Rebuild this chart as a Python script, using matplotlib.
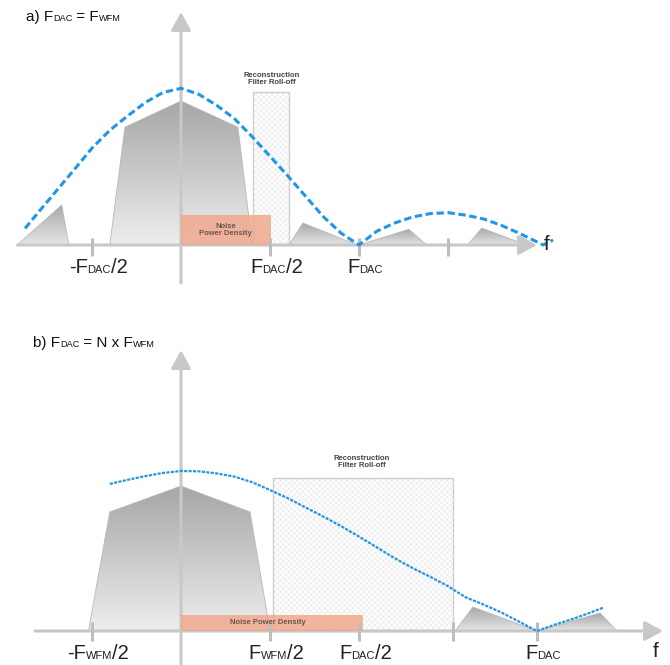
import numpy as np
import matplotlib
matplotlib.use("Agg")
import matplotlib.pyplot as plt
from matplotlib.patches import Polygon, Rectangle
from matplotlib.colors import LinearSegmentedColormap
from matplotlib.offsetbox import TextArea, HPacker, AnnotationBbox
from matplotlib import font_manager as fm

# ---------------- data (frequency in units of F_DAC, amplitude relative) -------------
# panel a) F_DAC = F_WFM
a_curve_f = [-0.876, -0.8, -0.7, -0.6, -0.5, -0.4, -0.3, -0.2, -0.1, 0.0,
             0.1, 0.2, 0.3, 0.4, 0.5, 0.6, 0.7, 0.8, 0.9, 1.0,
             1.1, 1.2, 1.3, 1.4, 1.5, 1.6, 1.7, 1.8, 1.9, 2.0, 2.035, 2.09]
a_curve_v = [0.106, 0.21, 0.345, 0.48, 0.617, 0.731, 0.822, 0.908, 0.972, 0.998,
             0.96, 0.89, 0.805, 0.69, 0.565, 0.44, 0.31, 0.18, 0.075, 0.0,
             0.088, 0.14, 0.178, 0.200, 0.206, 0.19, 0.166, 0.125, 0.075, 0.02, 0.0, 0.032]
a_main_f = [-0.40, -0.315, 0.0, 0.32, 0.40]
a_main_v = [0.0, 0.75, 0.917, 0.75, 0.0]
a_images_f = [[-0.92, -0.67, -0.63], [0.607, 0.685, 0.99], [1.0, 1.28, 1.38], [1.61, 1.69, 1.94]]
a_images_v = [[0.0, 0.255, 0.0], [0.0, 0.14, 0.0], [0.0, 0.10, 0.0], [0.0, 0.108, 0.0]]
a_noise = (0.0, 0.506, 0.19)           # f start, f end, height
a_filter = (0.404, 0.607, 0.975)
a_ticks = [-0.5, 0.5, 1.0, 1.5]
a_tick_labels = [("-F", "DAC", "/2"), ("F", "DAC", "/2"), ("F", "DAC", ""), None]

# panel b) F_DAC = N x F_WFM
b_curve_f = [-0.2, -0.15, -0.1, -0.05, 0.0, 0.05, 0.1, 0.15, 0.2, 0.25, 0.3, 0.35,
             0.4, 0.45, 0.5, 0.55, 0.6, 0.65, 0.7, 0.75, 0.8, 0.85, 0.9, 0.95,
             1.0, 1.05, 1.1, 1.15, 1.186]
b_curve_v = [0.919, 0.945, 0.968, 0.988, 1.0, 0.998, 0.985, 0.965, 0.93, 0.881, 0.83, 0.772,
             0.715, 0.655, 0.59, 0.523, 0.455, 0.394, 0.339, 0.28, 0.21, 0.165, 0.116, 0.058,
             0.0, 0.04, 0.075, 0.115, 0.146]
b_main_f = [-0.26, -0.2, 0.0, 0.194, 0.25]
b_main_v = [0.0, 0.744, 0.906, 0.744, 0.0]
b_images_f = [[0.77, 0.82, 1.0], [1.0, 1.177, 1.225]]
b_images_v = [[0.0, 0.15, 0.0], [0.0, 0.1125, 0.0]]
b_noise = (0.0, 0.511, 0.10)
b_filter = (0.258, 0.764, 0.956)
b_ticks = [-0.25, 0.25, 0.5, 0.764, 1.0]
b_tick_labels = [("-F", "WFM", "/2"), ("F", "WFM", "/2"), ("F", "DAC", "/2"), None, ("F", "DAC", "")]

# ---------------- style ----------------
names = {f.name for f in fm.fontManager.ttflist}
NARROW = 'Liberation Sans Narrow' if 'Liberation Sans Narrow' in names else 'Liberation Sans'
REG = 'Liberation Sans'
AXC = '#c8c8c8'
TICKC = '#bdbdbd'
BLUE = '#1f97e6'
plt.rcParams['hatch.linewidth'] = 0.45

fig = plt.figure(figsize=(6.7, 6.65), dpi=100)
ax_a = fig.add_axes([0, 1 - 300 / 665, 1, 300 / 665])
ax_b = fig.add_axes([0, 0, 1, 345 / 665])


def grad_poly(ax, xs, ys, c_top, c_bot, z=2):
    poly = Polygon(np.column_stack([xs, ys]), closed=True, facecolor='none',
                   edgecolor='#b8b8b8', lw=0.6, zorder=z + 0.1)
    ax.add_patch(poly)
    cmap = LinearSegmentedColormap.from_list('g', [c_bot, c_top])
    grad = np.linspace(0, 1, 256).reshape(-1, 1)
    im = ax.imshow(grad, cmap=cmap, extent=(min(xs), max(xs), 0, max(ys)),
                   origin='lower', aspect='auto', zorder=z, interpolation='bilinear')
    im.set_clip_path(poly)


def flabel(ax, x, y, parts, size, xycoords='data', align=(0.5, 0.5), offset=(0, 0),
           family=NARROW, color='#222222'):
    big, small, tail = parts
    kids = [TextArea(big, textprops=dict(fontsize=size, family=family, color=color)),
            TextArea(small, textprops=dict(fontsize=size * 0.55, family=family, color=color))]
    if tail:
        kids.append(TextArea(tail, textprops=dict(fontsize=size, family=family, color=color)))
    box = HPacker(children=kids, align='baseline', pad=0, sep=0)
    ab = AnnotationBbox(box, (x, y), xycoords=xycoords, xybox=offset,
                        boxcoords='offset points', frameon=False,
                        box_alignment=align, pad=0, zorder=10)
    ax.add_artist(ab)


def title(ax, x, y, pieces, size):
    kids = []
    for txt, small in pieces:
        kids.append(TextArea(txt, textprops=dict(fontsize=size * (0.6 if small else 1.0),
                                                 family=REG, color='#111111')))
    box = HPacker(children=kids, align='baseline', pad=0, sep=0)
    ab = AnnotationBbox(box, (x, y), xycoords='axes fraction', frameon=False,
                        box_alignment=(0, 0.5), pad=0, zorder=10)
    ax.add_artist(ab)


def draw_panel(ax, main_f, main_v, imgs_f, imgs_v, noise, filt, curve_f, curve_v,
               ticks, tick_labels, haxis, vaxis, tick_span, ls, lw, noise_text,
               noise_xy, filt_xy, f_xy):
    # spectral images and main lobe
    grad_poly(ax, main_f, main_v, '#a6a6a6', '#eeeeee', z=2)
    for xs, ys in zip(imgs_f, imgs_v):
        grad_poly(ax, xs, ys, '#a8a8a8', '#e6e6e6', z=2)
    # reconstruction filter
    ax.add_patch(Rectangle((filt[0], 0), filt[1] - filt[0], filt[2], facecolor='white',
                           edgecolor='#e8e8e8', hatch='xxxxxx', lw=0, zorder=1.5))
    ax.add_patch(Rectangle((filt[0], 0), filt[1] - filt[0], filt[2], fill=False,
                           edgecolor='#cfcfcf', lw=1.0, zorder=1.6))
    ax.text(filt_xy[0], filt_xy[1], 'Reconstruction\nFilter Roll-off', ha='center',
            va='center', fontsize=5.5, fontweight='bold', family=REG, color='#444444',
            linespacing=1.0, zorder=10)
    # axes with arrows
    ax.annotate('', xy=(haxis[1], 0), xytext=(haxis[0], 0),
                arrowprops=dict(arrowstyle='-|>,head_length=0.55,head_width=0.3',
                                lw=2.2, color=AXC, shrinkA=0, shrinkB=0, mutation_scale=20),
                zorder=4)
    ax.annotate('', xy=(0, vaxis[1]), xytext=(0, vaxis[0]),
                arrowprops=dict(arrowstyle='-|>,head_length=0.55,head_width=0.3',
                                lw=2.2, color=AXC, shrinkA=0, shrinkB=0, mutation_scale=20),
                zorder=4)
    # noise power density
    ax.add_patch(Rectangle((noise[0], 0), noise[1] - noise[0], noise[2],
                           facecolor='#f0a68a', edgecolor='none', alpha=0.82, zorder=5))
    ax.text(noise_xy[0], noise_xy[1], noise_text, ha='center', va='center', fontsize=5.5,
            fontweight='bold', family=REG, color='#6b5550', linespacing=1.0, zorder=10)
    # ticks and labels
    for t, lab in zip(ticks, tick_labels):
        ax.plot([t, t], tick_span, color=TICKC, lw=2.2, solid_capstyle='butt', zorder=6)
        if lab is not None:
            flabel(ax, t, 0, lab, 14.5, offset=(4.5, -16))
    # sinc envelope
    ax.plot(curve_f, curve_v, color=BLUE, lw=lw, linestyle=ls, zorder=8,
            dash_capstyle='butt')
    ax.text(f_xy[0], f_xy[1], 'f', ha='center', va='center', fontsize=15, family=NARROW,
            color='#222222', zorder=10)
    ax.axis('off')


draw_panel(ax_a, a_main_f, a_main_v, a_images_f, a_images_v, a_noise, a_filter,
           a_curve_f, a_curve_v, a_ticks, a_tick_labels, haxis=(-0.92, 2.0),
           vaxis=(-0.242, 1.484), tick_span=(0.045, -0.07), ls=(0, (2.4, 1.2)), lw=2.2,
           noise_text='Noise\nPower Density', noise_xy=(0.25, 0.095),
           filt_xy=(0.51, 1.06), f_xy=(2.056, 0.0))
ax_a.set_xlim(-181 / 178, 489 / 178)
ax_a.set_ylim(-55 / 157, 245 / 157)
title(ax_a, 26 / 670, 1 - 17 / 300, [("a) F", False), ("DAC", True), (" = F", False), ("WFM", True)], 11)

draw_panel(ax_b, b_main_f, b_main_v, b_images_f, b_images_v, b_noise, b_filter,
           b_curve_f, b_curve_v, b_ticks, b_tick_labels, haxis=(-0.41, 1.354),
           vaxis=(-0.22, 1.756), tick_span=(0.056, -0.0625), ls=(0, (1.4, 0.6)), lw=1.6,
           noise_text='Noise Power Density', noise_xy=(0.244, 0.05),
           filt_xy=(0.508, 1.056), f_xy=(1.334, -0.13))
ax_b.set_xlim(-181 / 356, 489 / 356)
ax_b.set_ylim(-34 / 160, 311 / 160)
title(ax_b, 33 / 670, 1 - 23 / 345,
      [("b) F", False), ("DAC", True), (" = N x F", False), ("WFM", True)], 11)

fig.savefig('out.png', dpi=100)
